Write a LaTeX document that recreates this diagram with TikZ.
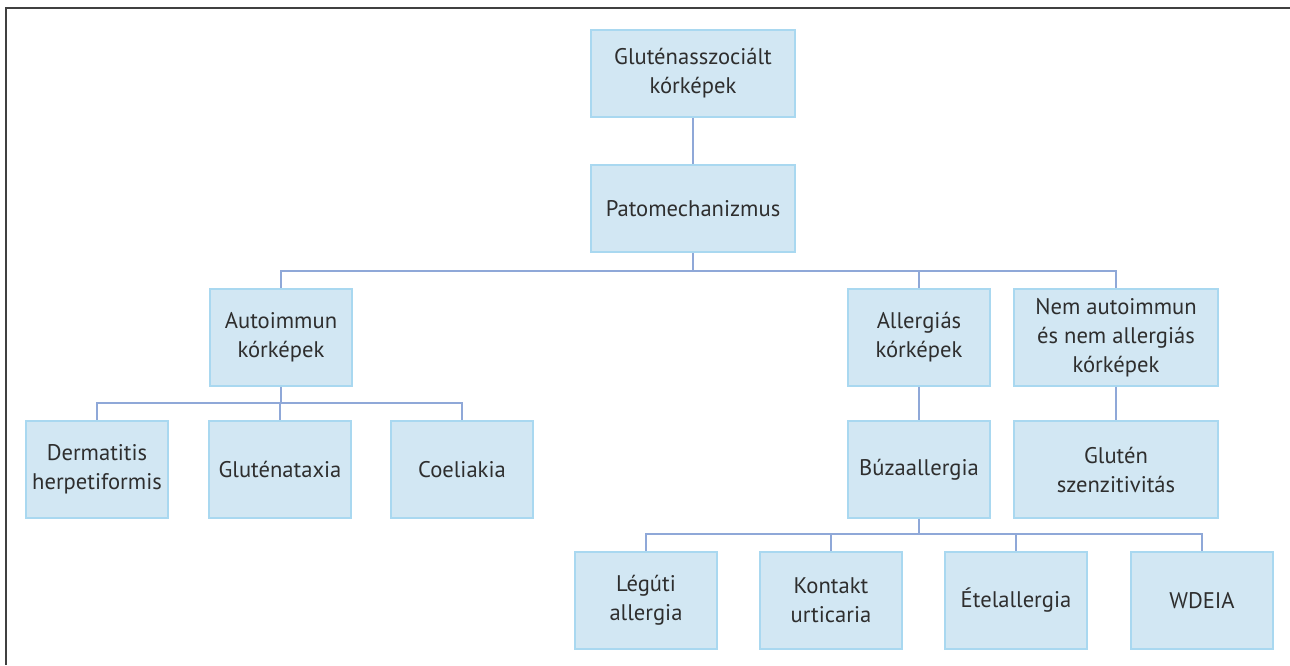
\documentclass[tikz,border=0pt]{standalone}
\usepackage{fontspec}
\setmainfont{PT Sans}
\definecolor{boxfill}{HTML}{D2E7F3}
\definecolor{boxline}{HTML}{A9D8F0}
\definecolor{linkcol}{HTML}{8FA8D8}
\definecolor{textcol}{HTML}{2E2E2E}
\definecolor{framecol}{HTML}{404040}

\begin{document}
\begin{tikzpicture}[x = 0.5pt, y = -0.5pt,
    box/.style = {draw = boxline, fill = boxfill, line width = 0.8pt, align = center,
        text = textcol, font = \fontsize{11.3}{14.5}\selectfont, inner sep = 0pt,
        minimum width = 71pt, minimum height = 48.5pt},
    widebox/.style = {box, minimum width = 102pt},
    link/.style = {draw = linkcol, line width = 1pt}]
    \useasboundingbox (0,0) rectangle (1290,665);
    \draw[framecol, line width = 1pt] (1290,8) -- (6,8) -- (6,665);
    \node[widebox, minimum height = 43.5pt] (glut) at (693,73.5) {Gluténasszociált\\kórképek};
    \node[widebox, minimum height = 43.5pt] (pato) at (693,208.5) {Patomechanizmus};
    \node[box] (auto) at (281,337.5) {Autoimmun\\kórképek};
    \node[box] (aller) at (919,337.5) {Allergiás\\kórképek};
    \node[widebox] (nem) at (1116,337.5) {Nem autoimmun\\és nem allergiás\\kórképek};
    \node[box] (derm) at (97,469.5) {Dermatitis\\herpetiformis};
    \node[box] (atax) at (280,469.5) {Gluténataxia};
    \node[box] (coel) at (462,469.5) {Coeliakia};
    \node[box] (buza) at (919,469.5) {Búzaallergia};
    \node[widebox] (szenz) at (1116,469.5) {Glutén\\szenzitivitás};
    \node[box] (leg) at (646,600.5) {Légúti\\allergia};
    \node[box] (kont) at (831,600.5) {Kontakt\\urticaria};
    \node[box] (etel) at (1016,600.5) {Ételallergia};
    \node[box] (wdeia) at (1202,600.5) {WDEIA};
    \coordinate (bus1) at (693,271);
    \coordinate (bus2) at (281,403);
    \coordinate (bus3) at (919,534);
    \draw[link] (glut) -- (pato);
    \draw[link] (pato) -- (bus1);
    \draw[link] (bus1) -| (auto);
    \draw[link] (bus1) -| (aller);
    \draw[link] (bus1) -| (nem);
    \draw[link] (auto) -- (bus2);
    \draw[link] (bus2) -| (derm);
    \draw[link] (bus2) -| (atax);
    \draw[link] (bus2) -| (coel);
    \draw[link] (aller) -- (buza);
    \draw[link] (nem) -- (szenz);
    \draw[link] (buza) -- (bus3);
    \draw[link] (bus3) -| (leg);
    \draw[link] (bus3) -| (kont);
    \draw[link] (bus3) -| (etel);
    \draw[link] (bus3) -| (wdeia);
\end{tikzpicture}
\end{document}
